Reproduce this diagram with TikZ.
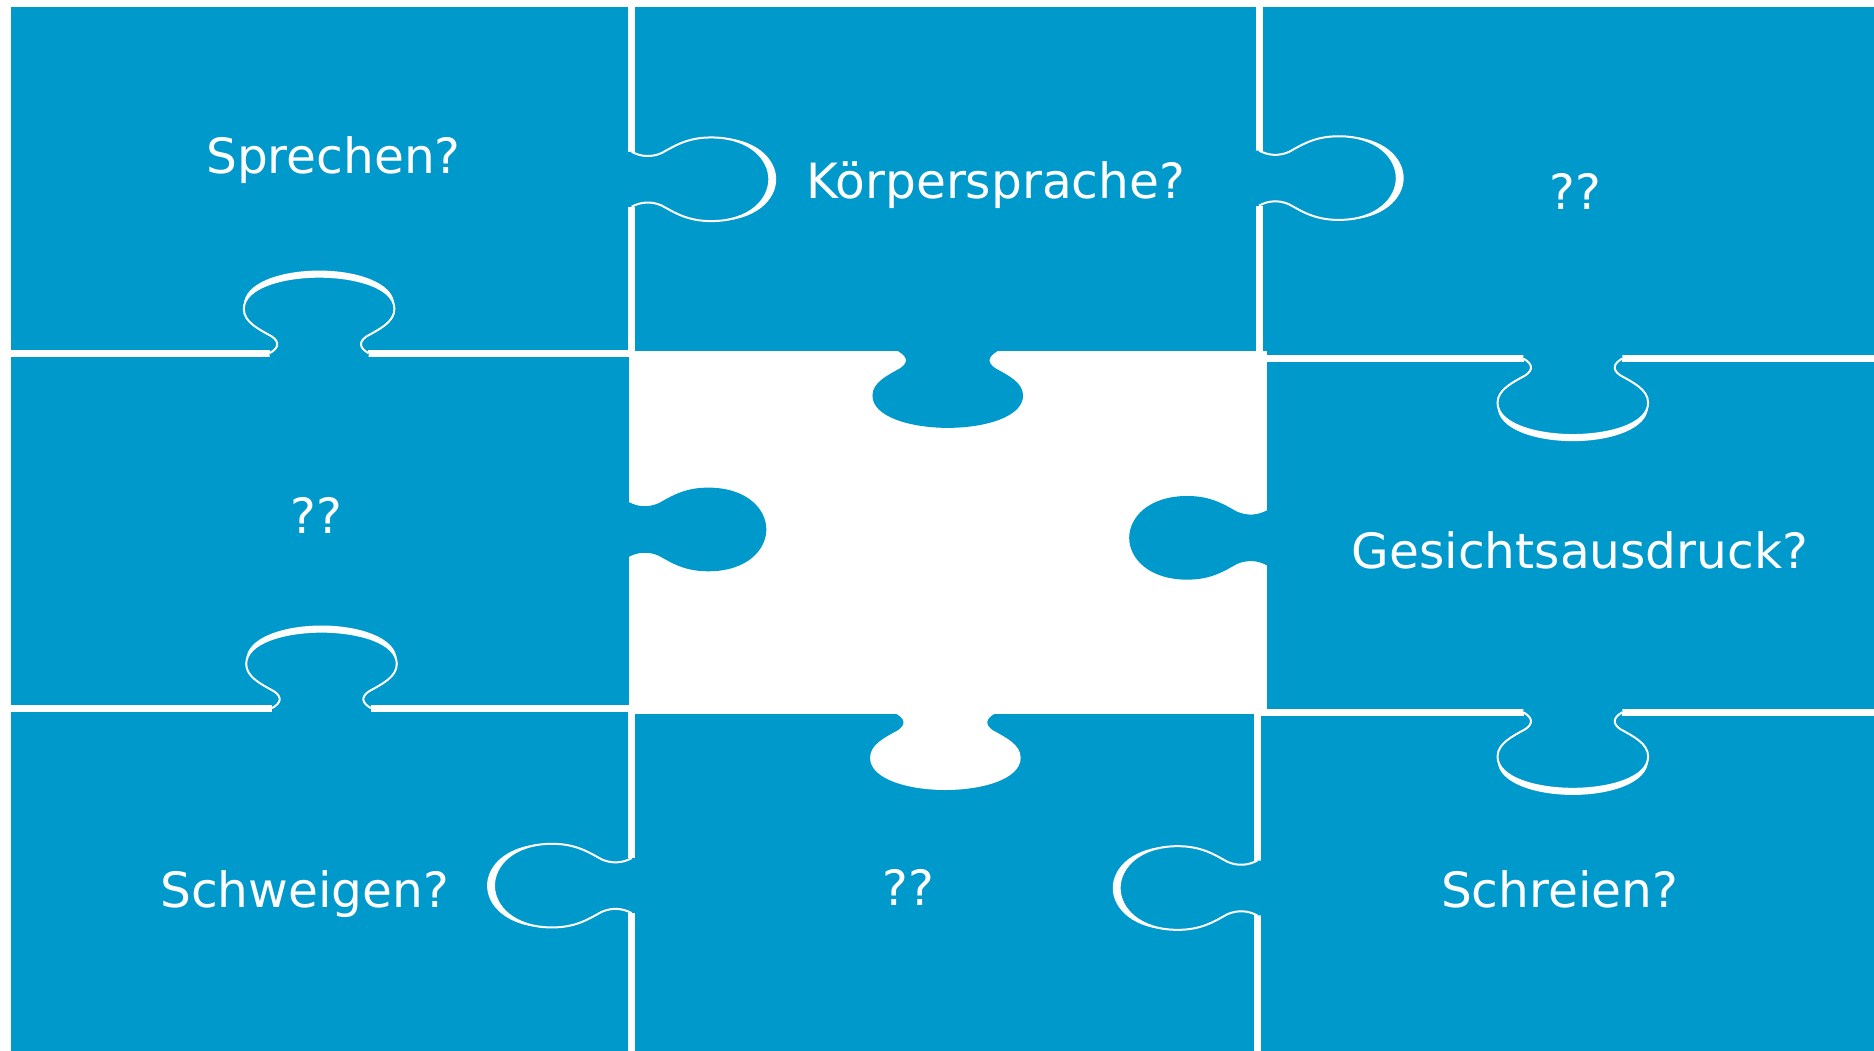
\documentclass[tikz,border=0pt]{standalone}
\usepackage{fontspec}
\setmainfont{DejaVu Sans}
\definecolor{puzzle}{RGB}{0,153,204}
\tikzset{
  pc/.style = {fill=puzzle},
  seam/.style = {draw=white, line width=7pt},
  lbl/.style = {text=white, anchor=base, font=\fontsize{48.6}{56}\selectfont},
  knob/.pic = {
    \path[pic actions] (-23,-3) -- (-23,0) .. controls (-19,4) and (-18,9) .. (-22,14)
      .. controls (-28,20) and (-35,26) .. (-35,37)
      .. controls (-35,55) and (-17,64) .. (0,64)
      .. controls (17,64) and (35,55) .. (35,37)
      .. controls (35,26) and (28,20) .. (22,14)
      .. controls (18,9) and (19,4) .. (23,0) -- (23,-3);
  },
  rim/.pic = {
    \path[pic actions] (-23,0) .. controls (-19,4) and (-18,9) .. (-22,14)
      .. controls (-28,20) and (-35,26) .. (-35,37)
      .. controls (-35,55) and (-17,64) .. (0,64)
      .. controls (17,64) and (35,55) .. (35,37)
      .. controls (35,26) and (28,20) .. (22,14)
      .. controls (18,9) and (19,4) .. (23,0);
  }
}
% tab across a joint: #1 = neck centre, #2 = turn (0 down, 180 up, 90 right, -90 left), #3 = rim
\newcommand{\jtab}[3]{%
  \pic[fill=white, xscale=1.8, rotate=#2, yscale=#3] at (#1) {rim};
  \pic[fill=puzzle, xscale=1.8, rotate=#2] at (#1) {knob};
  \pic[draw=white, line width=2pt, xscale=1.8, rotate=#2] at (#1) {rim};
}

\begin{document}
\begin{tikzpicture}[x=1.1952pt, y=-1.1952pt]
  \useasboundingbox (0,0) rectangle (1568,879);
  \fill[pc] (9,6) rectangle (1568,879);

  % joints, top row
  \draw[seam] (528.5,6) -- (528.5,127) (528.5,173) -- (528.5,299);
  \draw[seam] (1053.5,6) -- (1053.5,126) (1053.5,172) -- (1053.5,303);
  \jtab{528.5,150}{90}{1.05}
  \jtab{1053.5,149}{90}{1.05}
  % joints, middle row
  \draw[seam] (9,295.5) -- (226,295.5) (308,295.5) -- (529,295.5);
  \draw[seam] (1053,300) -- (1275,300) (1357,300) -- (1568,300);
  \draw[seam] (9,592.5) -- (228,592.5) (310,592.5) -- (529,592.5);
  \draw[seam] (1053,596) -- (1275,596) (1357,596) -- (1568,596);
  \jtab{267,295.5}{180}{1.08}
  \jtab{1316,300}{0}{1.08}
  \jtab{269,592.5}{180}{1.08}
  \jtab{1316,596}{0}{1.08}
  % joints, bottom row
  \draw[seam] (528.5,590) -- (528.5,718) (528.5,764) -- (528.5,879);
  \draw[seam] (1052,593) -- (1052,720) (1052,766) -- (1052,879);
  \jtab{528.5,741}{-90}{1.05}
  \jtab{1052,743}{-90}{1.05}

  % the missing piece
  \fill[white] (526,294) rectangle (1060,597);
  \pic[fill=puzzle, xscale=1.8] at (793,294) {knob};
  \pic[fill=puzzle, xscale=1.8, rotate=90] at (526,443) {knob};
  \pic[fill=puzzle, xscale=1.8, rotate=-90] at (1060,450) {knob};
  \pic[fill=white, xscale=1.8] at (791,597) {knob};

  \node[lbl] (sprechen) at (279,145) {Sprechen?};
  \node[lbl] (koerper) at (833,166) {Körpersprache?};
  \node[lbl] (q1) at (1318,175) {??};
  \node[lbl] (q2) at (265,446) {??};
  \node[lbl] (gesicht) at (1322,476) {Gesichtsausdruck?};
  \node[lbl] (schweigen) at (255,759) {Schweigen?};
  \node[lbl] (q3) at (760,758) {??};
  \node[lbl] (schreien) at (1305,759) {Schreien?};
\end{tikzpicture}
\end{document}
